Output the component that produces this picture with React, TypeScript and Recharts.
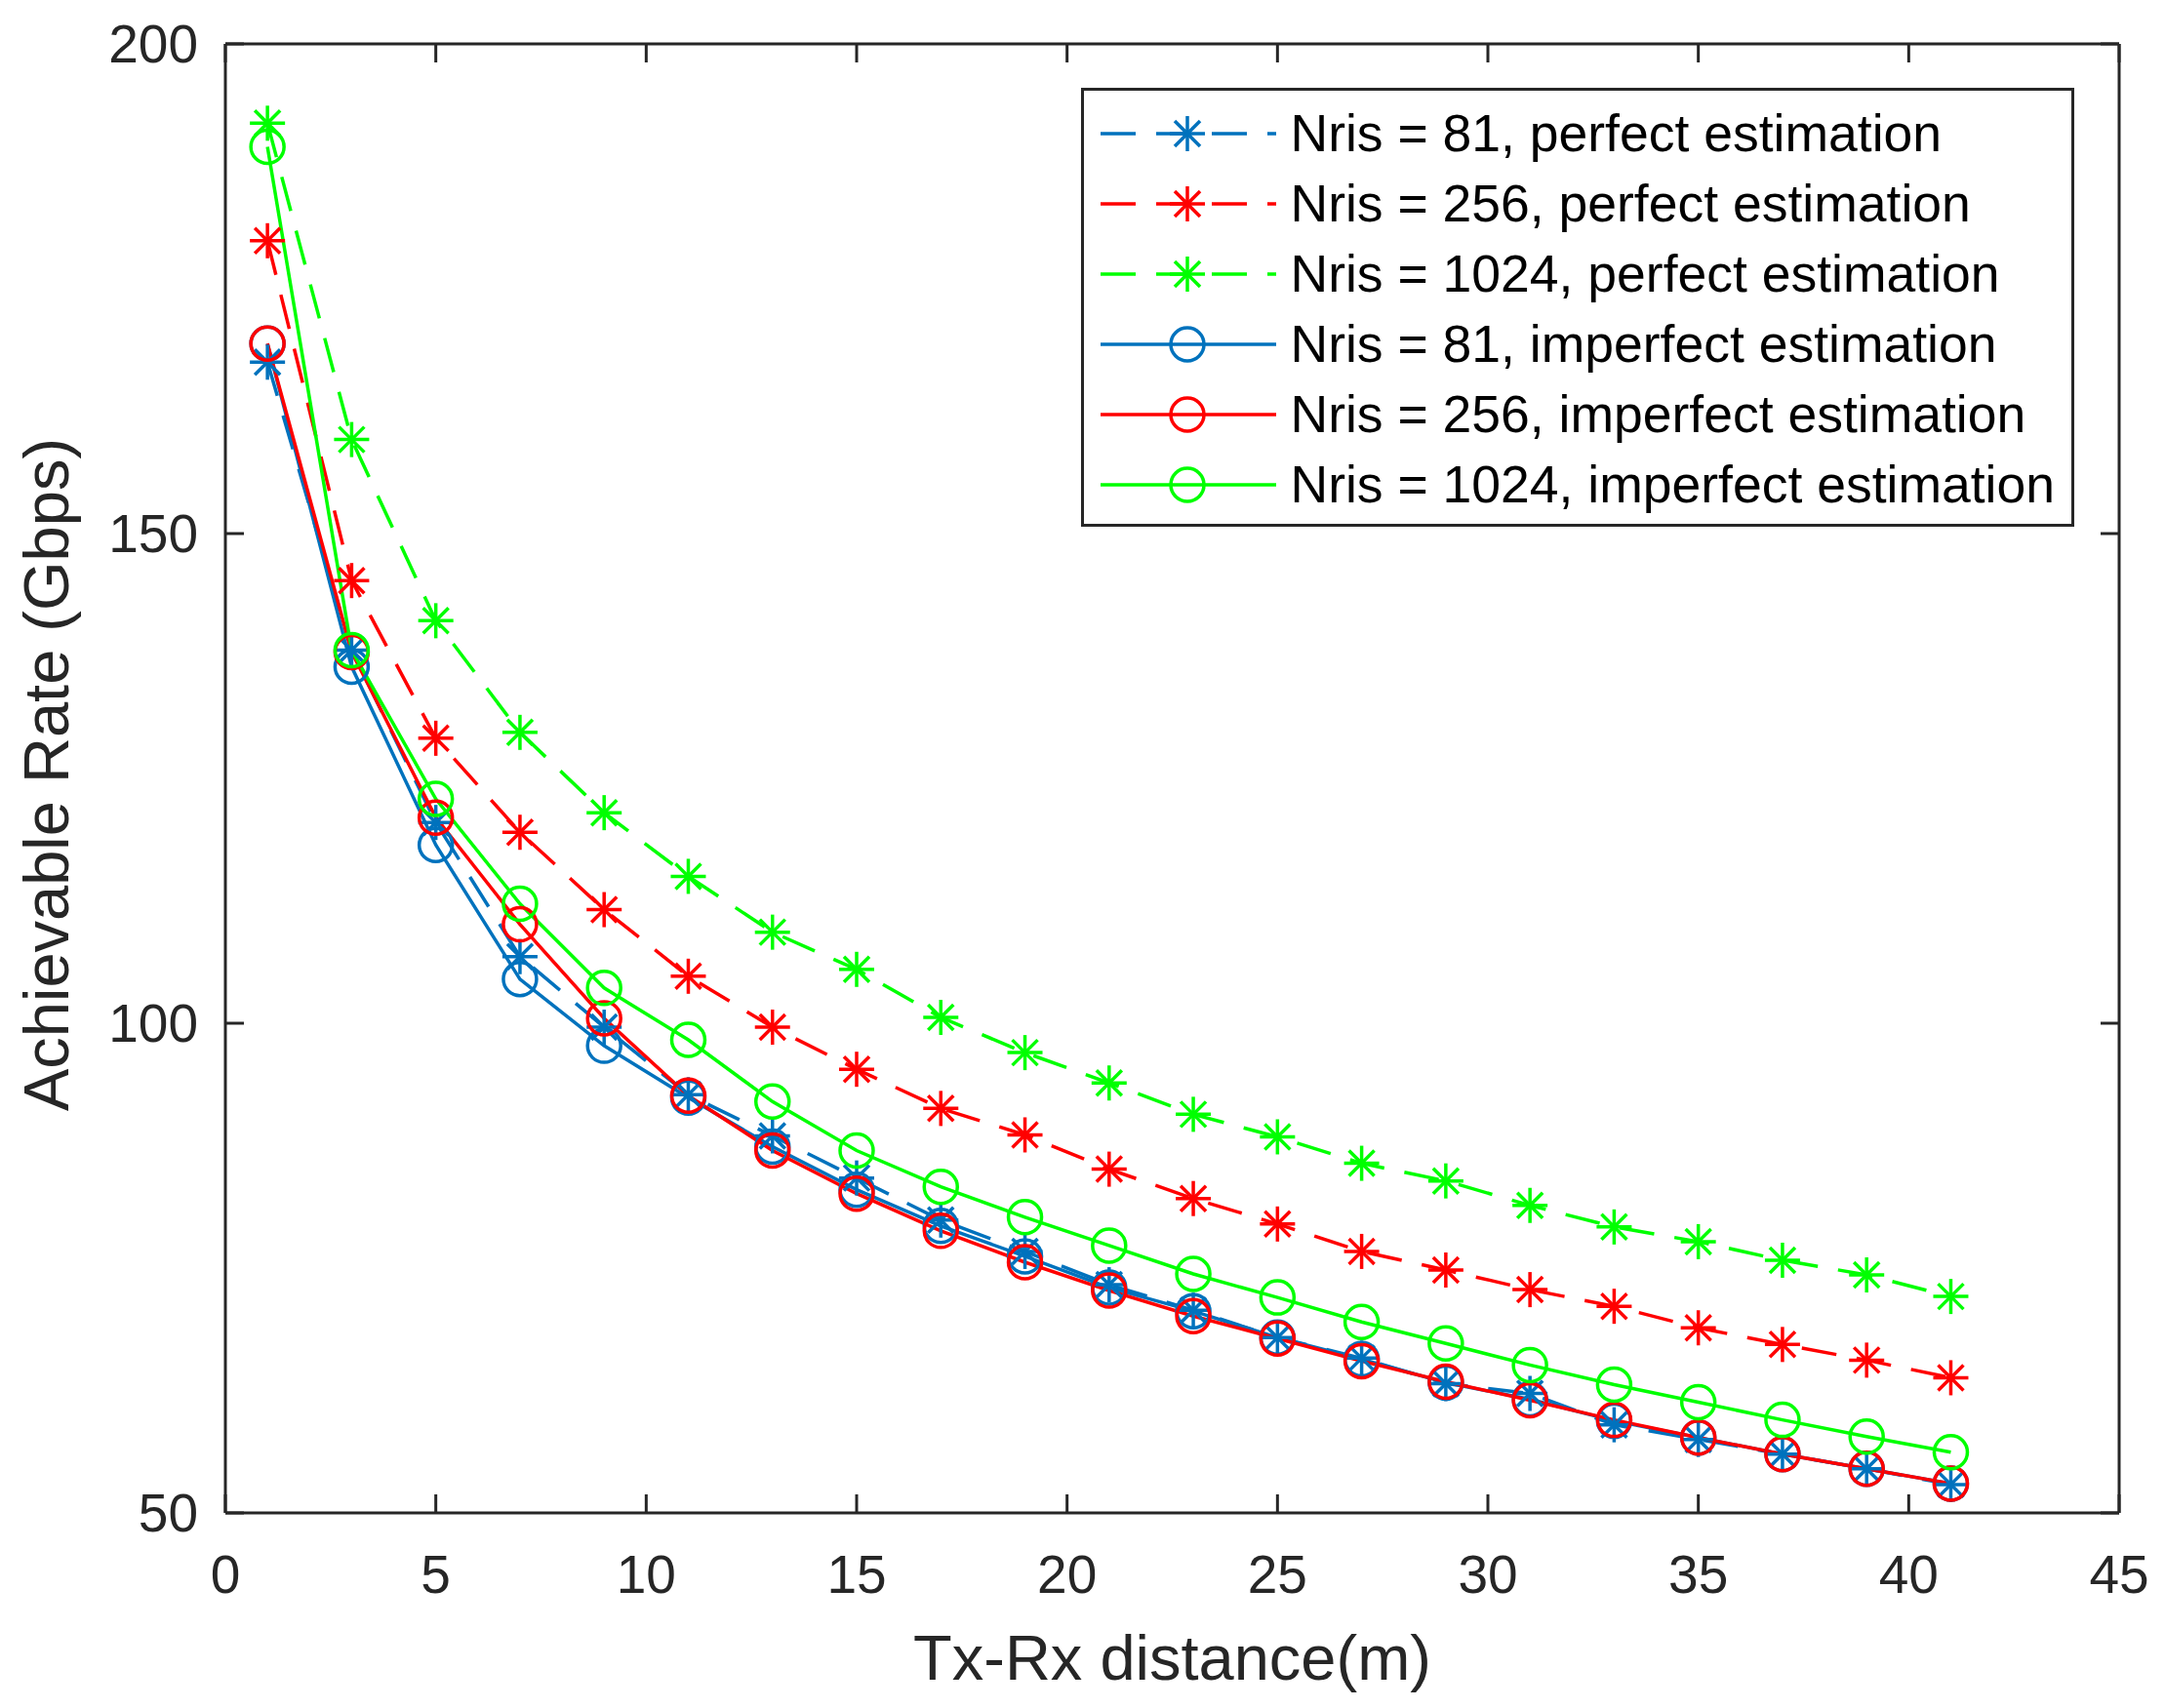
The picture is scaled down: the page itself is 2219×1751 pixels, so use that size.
import React from "react";
import {
	LineChart,
	Line,
	XAxis,
	YAxis,
	Legend,
	ReferenceLine,
} from "recharts";

const distances = [1, 3, 5, 7, 9, 11, 13, 15, 17, 19, 21, 23, 25, 27, 29, 31, 33, 35, 37, 39, 41];

const perfect81 = [167.5, 138.1, 120.5, 106.8, 99.6, 92.7, 88.5, 84.2, 79.9, 76.7, 73.3, 70.7, 67.9, 65.8, 63.2, 62.2, 59.0, 57.5, 56.0, 54.5, 52.9];
const perfect256 = [179.9, 145.2, 129.1, 119.5, 111.6, 104.8, 99.6, 95.3, 91.3, 88.6, 85.1, 82.1, 79.5, 76.7, 74.8, 72.8, 71.1, 68.9, 67.2, 65.6, 63.8];
const perfect1024 = [191.9, 159.6, 141.1, 129.7, 121.5, 115.0, 109.3, 105.5, 100.6, 97.0, 93.9, 90.7, 88.4, 85.7, 83.9, 81.4, 79.2, 77.7, 75.8, 74.3, 72.1];
const imperfect81 = [169.4, 136.4, 118.2, 104.5, 97.7, 92.4, 87.4, 83.0, 79.3, 76.2, 73.0, 70.6, 67.9, 65.7, 63.3, 61.6, 59.4, 57.7, 56.0, 54.5, 53.0];
const imperfect256 = [169.4, 137.9, 121.0, 110.1, 100.5, 92.6, 87.0, 82.6, 78.8, 75.6, 72.7, 70.1, 67.8, 65.5, 63.4, 61.5, 59.5, 57.7, 56.0, 54.5, 53.0];
const imperfect1024 = [189.5, 138.1, 122.9, 112.2, 103.6, 98.3, 92.0, 87.0, 83.3, 80.2, 77.3, 74.4, 72.0, 69.5, 67.3, 65.1, 63.1, 61.3, 59.5, 57.8, 56.2];

const xTicks = [0, 5, 10, 15, 20, 25, 30, 35, 40, 45];
const yTicks = [50, 100, 150, 200];

const BLUE = "#0072BD";
const RED = "#FF0000";
const GREEN = "#00FF00";
const AXIS = "#262626";
const FONT = "'Liberation Sans', Arial, Helvetica, sans-serif";

const series = [
	{ key: "p81", name: "Nris = 81, perfect estimation", color: BLUE, dashed: true, values: perfect81 },
	{ key: "p256", name: "Nris = 256, perfect estimation", color: RED, dashed: true, values: perfect256 },
	{ key: "p1024", name: "Nris = 1024, perfect estimation", color: GREEN, dashed: true, values: perfect1024 },
	{ key: "i81", name: "Nris = 81, imperfect estimation", color: BLUE, dashed: false, values: imperfect81 },
	{ key: "i256", name: "Nris = 256, imperfect estimation", color: RED, dashed: false, values: imperfect256 },
	{ key: "i1024", name: "Nris = 1024, imperfect estimation", color: GREEN, dashed: false, values: imperfect1024 },
];

const data = distances.map((d, i) => {
	const row: Record<string, number> = { d };
	series.forEach((s) => (row[s.key] = s.values[i]));
	return row;
});

const W = 2203;
const H = 1735;
const PLOT_L = 223;
const PLOT_R = 2164;
const PLOT_T = 37;
const PLOT_B = 1543;
const TICK = 19;
const LW = 3.5;
const DASH = "36 21";

function Star({ cx, cy, color }: { cx: number; cy: number; color: string }) {
	const a = 18;
	const b = 13;
	return (
		<g stroke={color} strokeWidth={LW} fill="none">
			<line x1={cx - a} y1={cy} x2={cx + a} y2={cy} />
			<line x1={cx} y1={cy - a} x2={cx} y2={cy + a} />
			<line x1={cx - b} y1={cy - b} x2={cx + b} y2={cy + b} />
			<line x1={cx - b} y1={cy + b} x2={cx + b} y2={cy - b} />
		</g>
	);
}

function Ring({ cx, cy, color }: { cx: number; cy: number; color: string }) {
	return <circle cx={cx} cy={cy} r={17} stroke={color} strokeWidth={LW} fill="none" />;
}

function XTick(props: any) {
	const { x, payload } = props;
	return (
		<g>
			<line x1={x} x2={x} y1={PLOT_B} y2={PLOT_B - TICK} stroke={AXIS} strokeWidth={3} />
			<line x1={x} x2={x} y1={PLOT_T} y2={PLOT_T + TICK} stroke={AXIS} strokeWidth={3} />
			<text x={x} y={PLOT_B + 63} textAnchor="middle" dominantBaseline="central" fill={AXIS} fontSize={55} fontFamily={FONT}>
				{payload.value}
			</text>
		</g>
	);
}

function YTick(props: any) {
	const { y, payload } = props;
	return (
		<g>
			<line x1={PLOT_L} x2={PLOT_L + TICK} y1={y} y2={y} stroke={AXIS} strokeWidth={3} />
			<line x1={PLOT_R - TICK} x2={PLOT_R} y1={y} y2={y} stroke={AXIS} strokeWidth={3} />
			<text x={195} y={y} textAnchor="end" dominantBaseline="central" fill={AXIS} fontSize={55} fontFamily={FONT}>
				{payload.value}
			</text>
		</g>
	);
}

function LegendBox() {
	return (
		<div
			style={{
				boxSizing: "border-box",
				width: 1018,
				height: 450,
				border: `3.5px solid ${AXIS}`,
				background: "#fff",
				paddingTop: 7.5,
				fontFamily: FONT,
			}}
		>
			{series.map((s) => (
				<div key={s.key} style={{ height: 72, display: "flex", alignItems: "center" }}>
					<svg width={180} height={72} style={{ marginLeft: 16.5, flex: "none" }}>
						<line
							x1={0}
							x2={180}
							y1={36}
							y2={36}
							stroke={s.color}
							strokeWidth={LW}
							strokeDasharray={s.dashed ? DASH : undefined}
						/>
						{s.dashed ? <Star cx={89} cy={36} color={s.color} /> : <Ring cx={89} cy={36} color={s.color} />}
					</svg>
					<span style={{ marginLeft: 15, fontSize: 53.5, color: "#000", whiteSpace: "nowrap", lineHeight: "72px" }}>
						{s.name}
					</span>
				</div>
			))}
		</div>
	);
}

export default function App() {
	return (
		<div style={{ width: W, height: H, background: "#fff" }}>
			<LineChart width={W} height={H} data={data} margin={{ top: PLOT_T, right: W - PLOT_R, bottom: 92, left: 73 }}>
				<XAxis
					dataKey="d"
					type="number"
					domain={[0, 45]}
					ticks={xTicks}
					interval={0}
					height={100}
					axisLine={{ stroke: AXIS, strokeWidth: 3 }}
					tickLine={false}
					tick={<XTick />}
					label={{
						value: "Tx-Rx distance(m)",
						content: () => (
							<text x={(PLOT_L + PLOT_R) / 2} y={1714} textAnchor="middle" fill={AXIS} fontSize={65} fontFamily={FONT}>
								Tx-Rx distance(m)
							</text>
						),
					}}
				/>
				<YAxis
					type="number"
					domain={[50, 200]}
					ticks={yTicks}
					interval={0}
					width={150}
					axisLine={{ stroke: AXIS, strokeWidth: 3 }}
					tickLine={false}
					tick={<YTick />}
					label={{
						value: "Achievable Rate (Gbps)",
						content: () => (
							<text
								x={62}
								y={786}
								transform="rotate(-90 62 786)"
								textAnchor="middle"
								fill={AXIS}
								fontSize={65}
								fontFamily={FONT}
							>
								Achievable Rate (Gbps)
							</text>
						),
					}}
				/>
				<ReferenceLine y={200} stroke={AXIS} strokeWidth={3} />
				<ReferenceLine x={45} stroke={AXIS} strokeWidth={3} />
				{series.map((s) => (
					<Line
						key={s.key}
						dataKey={s.key}
						name={s.name}
						type="linear"
						stroke={s.color}
						strokeWidth={LW}
						strokeDasharray={s.dashed ? DASH : undefined}
						isAnimationActive={false}
						activeDot={false}
						dot={(p: any) =>
							s.dashed ? (
								<Star key={`${s.key}-${p.index}`} cx={p.cx} cy={p.cy} color={s.color} />
							) : (
								<Ring key={`${s.key}-${p.index}`} cx={p.cx} cy={p.cy} color={s.color} />
							)
						}
					/>
				))}
				<Legend
					layout="vertical"
					align="center"
					verticalAlign="middle"
					content={() => <LegendBox />}
					wrapperStyle={{ left: 1100, top: 82, width: 1018, height: 450 }}
				/>
			</LineChart>
		</div>
	);
}
